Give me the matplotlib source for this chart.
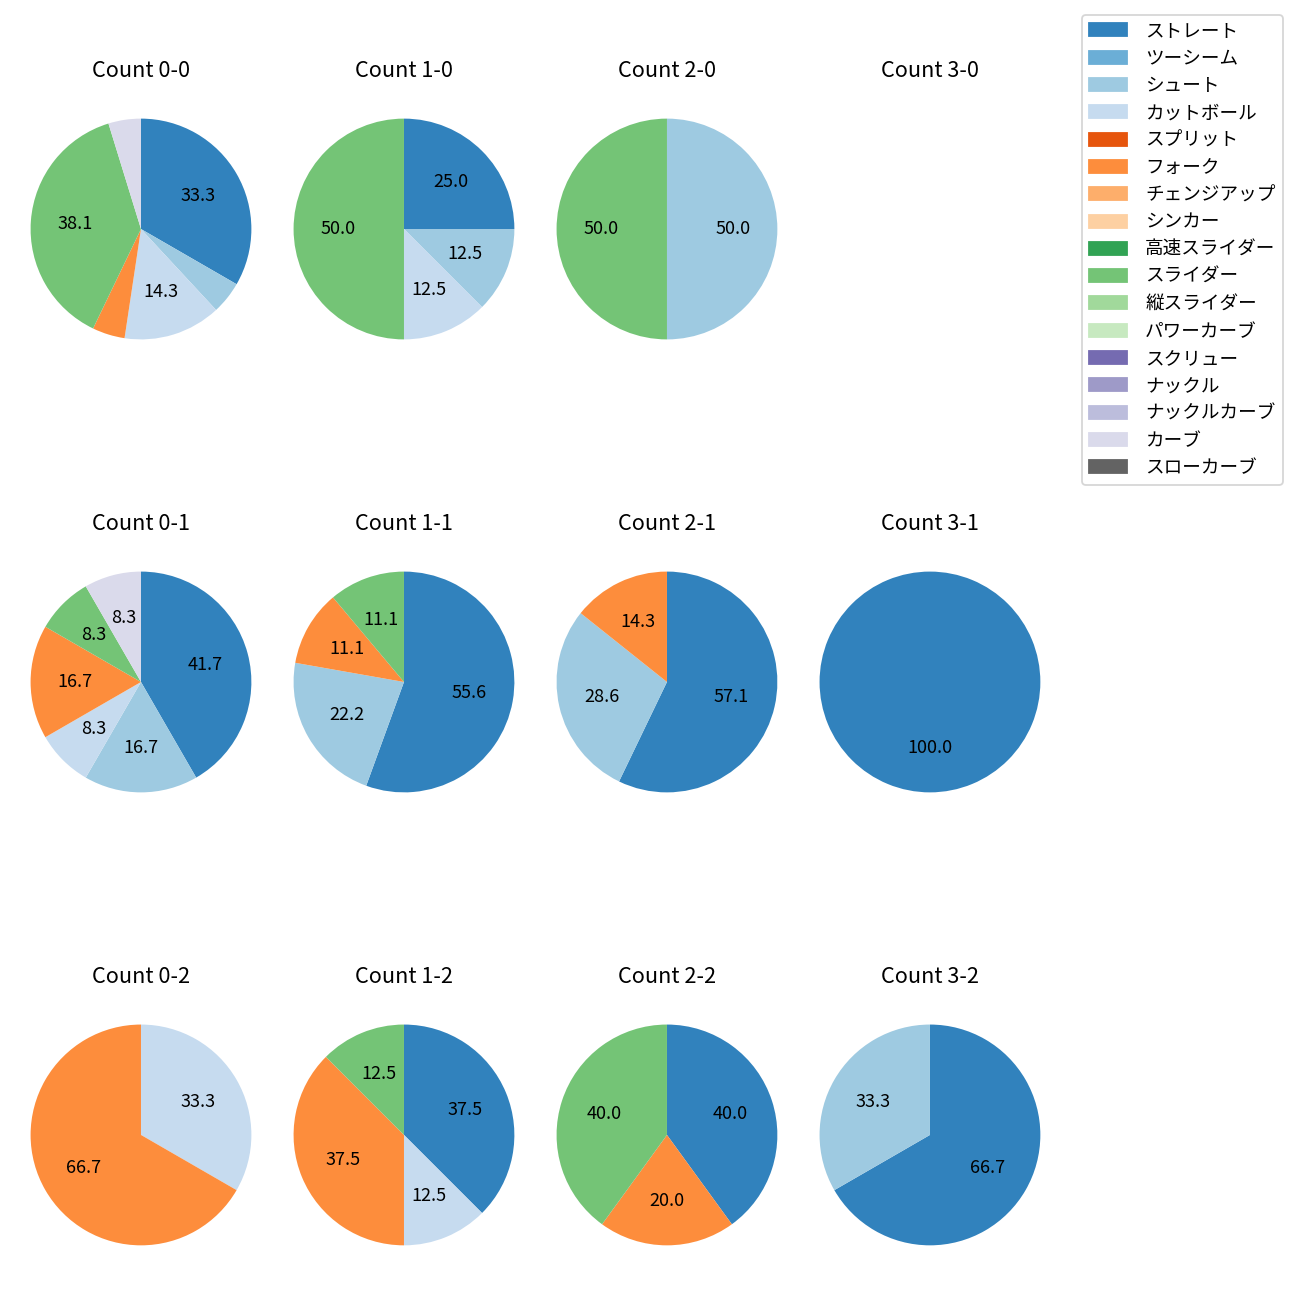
import numpy as np
import matplotlib
matplotlib.use("Agg")
import matplotlib.pyplot as plt
from matplotlib.patches import Patch

plt.rcParams['font.family'] = ['Noto Sans CJK JP', 'DejaVu Sans']

# pitch types, in legend order (colour = tab20c index)
pitch_types = ['ストレート', 'ツーシーム', 'シュート', 'カットボール', 'スプリット',
               'フォーク', 'チェンジアップ', 'シンカー', '高速スライダー', 'スライダー',
               '縦スライダー', 'パワーカーブ', 'スクリュー', 'ナックル', 'ナックルカーブ',
               'カーブ', 'スローカーブ']

balls = [0, 1, 2, 3]
strikes = [0, 1, 2]

# number of pitches per type for each count (balls-strikes)
pitches_0_0 = {'ストレート': 7, 'シュート': 1, 'カットボール': 3, 'フォーク': 1, 'スライダー': 8, 'カーブ': 1}
pitches_1_0 = {'ストレート': 2, 'シュート': 1, 'カットボール': 1, 'スライダー': 4}
pitches_2_0 = {'シュート': 1, 'スライダー': 1}
pitches_3_0 = {}
pitches_0_1 = {'ストレート': 5, 'シュート': 2, 'カットボール': 1, 'フォーク': 2, 'スライダー': 1, 'カーブ': 1}
pitches_1_1 = {'ストレート': 5, 'シュート': 2, 'フォーク': 1, 'スライダー': 1}
pitches_2_1 = {'ストレート': 4, 'シュート': 2, 'フォーク': 1}
pitches_3_1 = {'ストレート': 1}
pitches_0_2 = {'カットボール': 1, 'フォーク': 2}
pitches_1_2 = {'ストレート': 3, 'カットボール': 1, 'フォーク': 3, 'スライダー': 1}
pitches_2_2 = {'ストレート': 2, 'フォーク': 1, 'スライダー': 2}
pitches_3_2 = {'ストレート': 2, 'シュート': 1}

by_count = {
    (0, 0): pitches_0_0, (1, 0): pitches_1_0, (2, 0): pitches_2_0, (3, 0): pitches_3_0,
    (0, 1): pitches_0_1, (1, 1): pitches_1_1, (2, 1): pitches_2_1, (3, 1): pitches_3_1,
    (0, 2): pitches_0_2, (1, 2): pitches_1_2, (2, 2): pitches_2_2, (3, 2): pitches_3_2,
}

cmap = plt.get_cmap('tab20c')
colors = {p: cmap(i) for i, p in enumerate(pitch_types)}


def pct_label(p):
    # small slices get no label
    return f'{p:.1f}' if p >= 5 else ''


fig, axes = plt.subplots(3, 4, figsize=(10, 10))
fig.subplots_adjust(left=0.0023, right=0.8215, top=0.93, bottom=0.0208,
                    wspace=-0.0471, hspace=0.641)

for s in strikes:
    for b in balls:
        ax = axes[s, b]
        data = by_count[(b, s)]
        ax.set_title(f'Count {b}-{s}', pad=7.7)
        if not data:
            ax.axis('off')
            continue
        names = [p for p in pitch_types if data.get(p, 0) > 0]
        vals = [data[p] for p in names]
        ax.pie(vals, colors=[colors[p] for p in names], startangle=90,
               counterclock=False, autopct=pct_label)

handles = [Patch(color=colors[p], label=p) for p in pitch_types]
fig.legend(handles=handles, loc='upper right', borderaxespad=0,
           bbox_to_anchor=(1283 / 1300, 1 - 15 / 1300),
           fontsize=10.3, handletextpad=1.0)

plt.savefig('out.png', dpi=130)
